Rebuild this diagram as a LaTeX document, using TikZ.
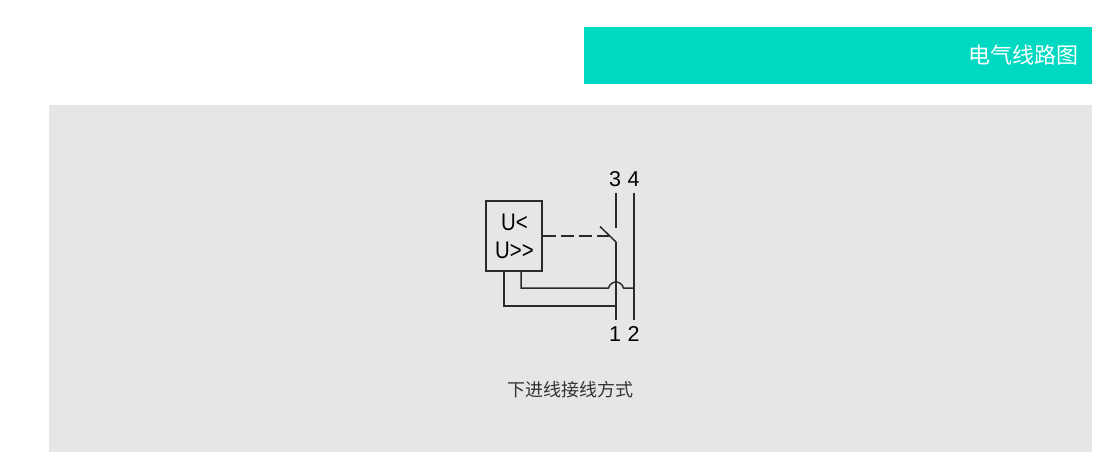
\documentclass[tikz,border=0pt]{standalone}
\usepackage{fontspec}
\setmainfont{Liberation Sans}
\newfontfamily\cjk{Noto Sans CJK SC}
\definecolor{bannercol}{HTML}{00D9C2}
\definecolor{panelcol}{HTML}{E5E6E8}
\definecolor{wirecol}{HTML}{2A2A2A}
\newcommand{\narrowtext}[1]{\scalebox{.85}[1]{#1}}
\tikzset{
  wire/.style={draw=wirecol, line width=1.5pt},
  term/.style={font=\fontsize{21.5}{21.5}\selectfont, text=black, inner sep=0pt},
  relay/.style={draw=wirecol, line width=1.5pt, minimum width=56pt, minimum height=70pt, inner sep=0pt},
  relaytext/.style={font=\fontsize{24}{24}\selectfont, text=black, inner sep=0pt},
}
\begin{document}
\begin{tikzpicture}[x=1pt,y=-1pt]
      \useasboundingbox (0,0) rectangle (1117,475);
      \fill[panelcol] (49,105) rectangle (1092,452);

      \node[fill=bannercol, minimum width=508pt, minimum height=57pt, inner sep=0pt] (banner) at (838,55.5) {};
      \node[anchor=east, text=white, inner sep=0pt, font=\cjk\fontsize{22}{22}\selectfont] (title) at (1078.5,55) {电气线路图};

      \node[relay] (relay) at (514,236) {};
      \node[relaytext] (under) at (514.5,222.5) {\narrowtext{U<}};
      \node[relaytext] (over) at (514.5,250) {\narrowtext{U{>}{>}}};

      \node[term] (3) at (615,179.5) {3};
      \node[term] (4) at (633.5,179.5) {4};
      \node[term] (1) at (615,334) {1};
      \node[term] (2) at (633.5,334) {2};

      \coordinate (top3) at (616,193);
      \coordinate (top4) at (634,193);
      \coordinate (bot1) at (616,320);
      \coordinate (bot2) at (634,320);
      \coordinate (fix3) at (616,228);
      \coordinate (hinge) at (616,242);
      \coordinate (blade) at (600,226.5);
      \coordinate (dashend) at (609,236);
      \coordinate (lowA) at (504,306);
      \coordinate (lowB) at (521,288);
      \coordinate (jumpL) at (608.5,288);
      \coordinate (jumpR) at (623.5,288);

      \draw[wire] (top3) -- (fix3);
      \draw[wire] (top4) -- (bot2);
      \draw[wire] (hinge) -- (bot1);
      \draw[wire] (blade) -- (hinge);
      \draw[wire, dash pattern=on 13pt off 5pt] (relay.east |- dashend) -- (dashend);
      \draw[wire] (relay.south -| lowA) -- (lowA) -- (lowA -| hinge);
      \draw[wire] (relay.south -| lowB) -- (lowB) -- (jumpL)
        .. controls (611,280) and (621,280) .. (jumpR) -- (jumpR -| top4);

      \node[text=black!80, inner sep=0pt, font=\cjk\fontsize{18}{18}\selectfont] (caption) at (570,390) {下进线接线方式};
\end{tikzpicture}
\end{document}
